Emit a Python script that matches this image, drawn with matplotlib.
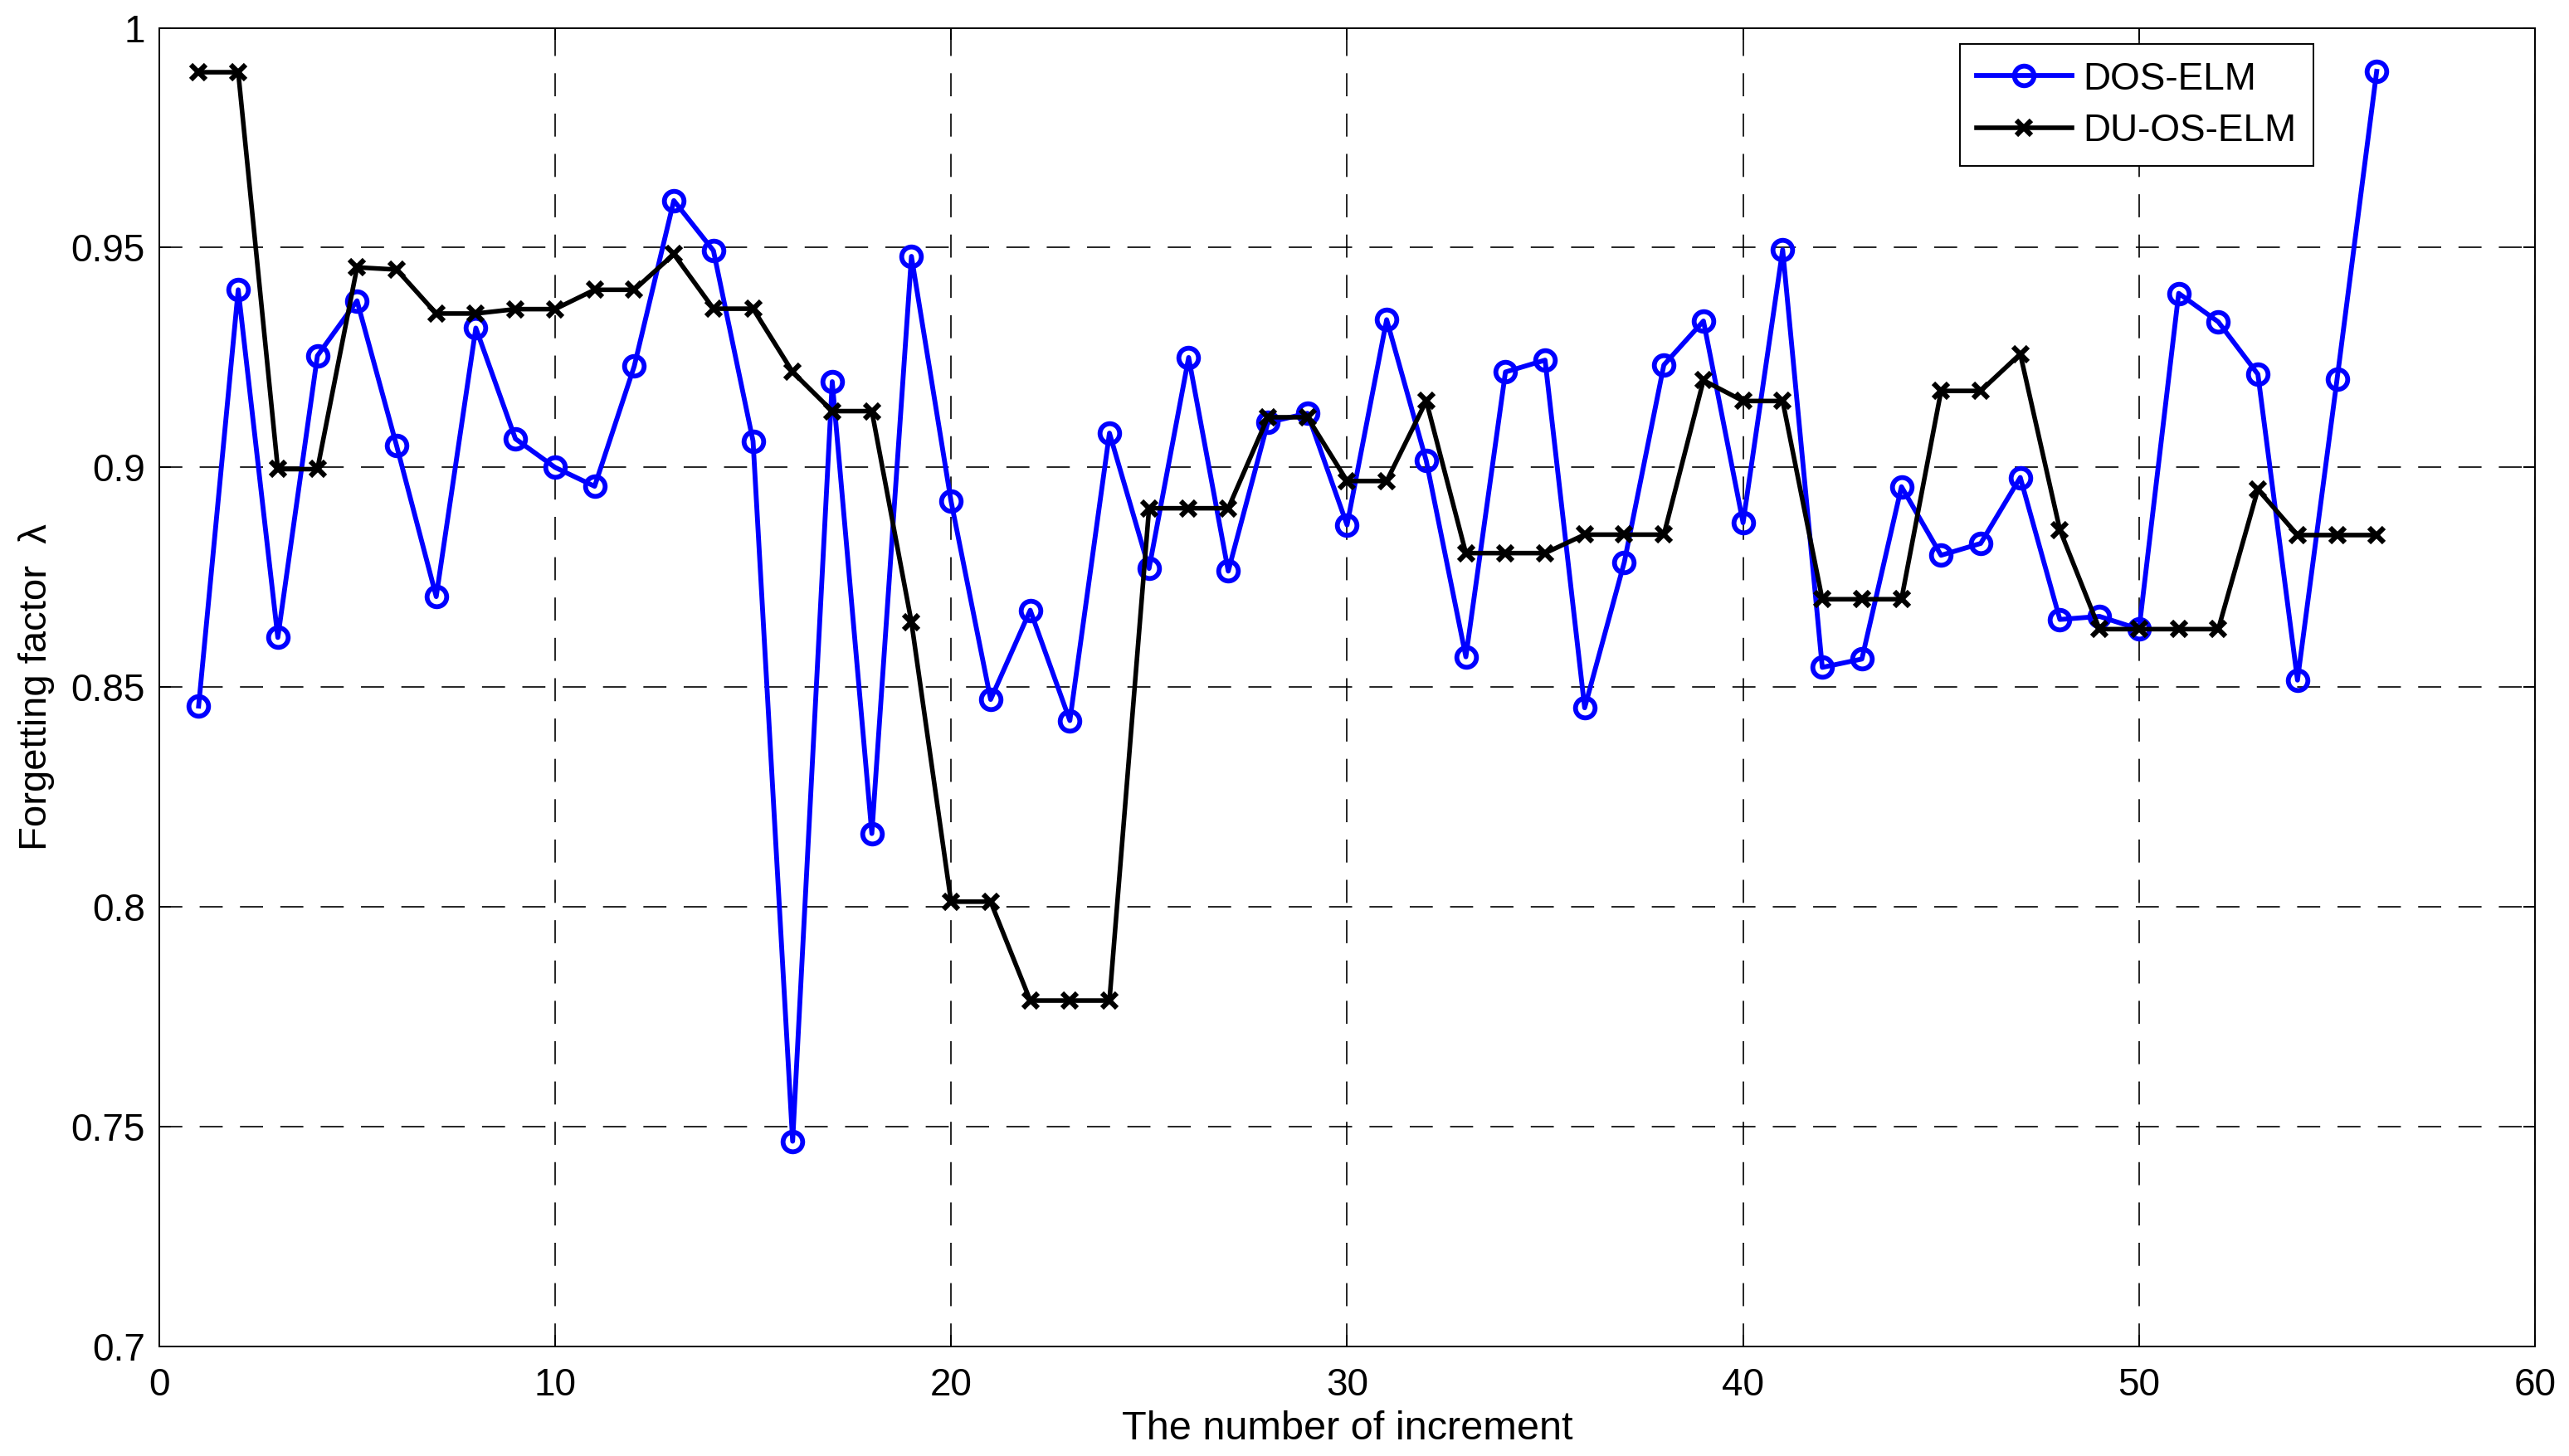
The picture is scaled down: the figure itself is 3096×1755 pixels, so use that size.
import matplotlib
matplotlib.use("Agg")
import matplotlib.pyplot as plt
from matplotlib.ticker import FixedLocator

plt.rcParams['font.family'] = ['Liberation Sans', 'DejaVu Sans']
plt.rcParams['lines.scale_dashes'] = False

increments = list(range(1, 57))
dos_elm = [0.8457, 0.9404, 0.8613, 0.9254, 0.9379, 0.9049, 0.8706, 0.9317, 0.9065, 0.9000,
           0.8957, 0.9230, 0.9607, 0.9493, 0.9060, 0.7467, 0.9195, 0.8167, 0.9480, 0.8923,
           0.8472, 0.8675, 0.8424, 0.9078, 0.8770, 0.9250, 0.8764, 0.9102, 0.9123, 0.8869,
           0.9336, 0.9015, 0.8569, 0.9217, 0.9244, 0.8453, 0.8784, 0.9233, 0.9333, 0.8874,
           0.9495, 0.8545, 0.8564, 0.8956, 0.8800, 0.8827, 0.8977, 0.8654, 0.8661, 0.8632,
           0.9396, 0.9331, 0.9212, 0.8516, 0.9201, 0.9901]
du_os_elm = [0.9899, 0.9899, 0.8996, 0.8996, 0.9455, 0.9450, 0.9350, 0.9350, 0.9360, 0.9360,
             0.9404, 0.9404, 0.9485, 0.9361, 0.9361, 0.9217, 0.9128, 0.9128, 0.8648, 0.8012,
             0.8012, 0.7787, 0.7787, 0.7787, 0.8907, 0.8907, 0.8907, 0.9114, 0.9114, 0.8969,
             0.8969, 0.9151, 0.8805, 0.8805, 0.8805, 0.8847, 0.8847, 0.8847, 0.9198, 0.9151,
             0.9151, 0.8700, 0.8700, 0.8700, 0.9174, 0.9174, 0.9258, 0.8858, 0.8632, 0.8632,
             0.8632, 0.8632, 0.8950, 0.8846, 0.8846, 0.8846]
series_labels = ['DOS-ELM', 'DU-OS-ELM']
x_ticks = [0, 10, 20, 30, 40, 50, 60]
x_tick_labels = ['0', '10', '20', '30', '40', '50', '60']
y_ticks = [0.7, 0.75, 0.8, 0.85, 0.9, 0.95, 1.0]
y_tick_labels = ['0.7', '0.75', '0.8', '0.85', '0.9', '0.95', '1']

DPI = 200
fig = plt.figure(figsize=(3096 / DPI, 1755 / DPI), dpi=DPI)
ax = fig.add_axes([0.0619, 0.0752, 0.9868 - 0.0619, 0.9809 - 0.0752])

ax.plot(increments, dos_elm, color=(0, 0, 1), lw=2.1, marker='o', ms=8.5,
        mfc='none', mec=(0, 0, 1), mew=2.1, label=series_labels[0], zorder=3)
ax.plot(increments, du_os_elm, color='black', lw=2.0, marker='x', ms=6.5,
        mec='black', mew=2.2, label=series_labels[1], zorder=3)

ax.set_xlim(0, 60)
ax.set_ylim(0.7, 1.0)
ax.xaxis.set_major_locator(FixedLocator(x_ticks))
ax.yaxis.set_major_locator(FixedLocator(y_ticks))
ax.set_xticklabels(x_tick_labels)
ax.set_yticklabels(y_tick_labels)
ax.tick_params(direction='in', length=5, width=0.7, labelsize=16.5, pad=6,
               top=True, right=True)
ax.tick_params(axis='x', pad=9)
for sp in ax.spines.values():
    sp.set_linewidth(0.7)
    sp.set_color('black')

ax.grid(True, color='black', linestyle=(0, (10, 7.5)), linewidth=0.6)
ax.set_axisbelow(True)

ax.set_xlabel('The number of increment', fontsize=17.5, labelpad=3)
ax.set_ylabel('Forgetting factor  λ', fontsize=17, labelpad=7)

leg = ax.legend(loc='upper right', bbox_to_anchor=(0.9068, 0.9878), fontsize=16.5,
                frameon=True, fancybox=False, framealpha=1, edgecolor='black',
                handlelength=2.5, handletextpad=0.3, borderpad=0.45,
                labelspacing=0.4, borderaxespad=0)
leg.get_frame().set_linewidth(0.7)

fig.savefig('out.png', dpi=DPI)
